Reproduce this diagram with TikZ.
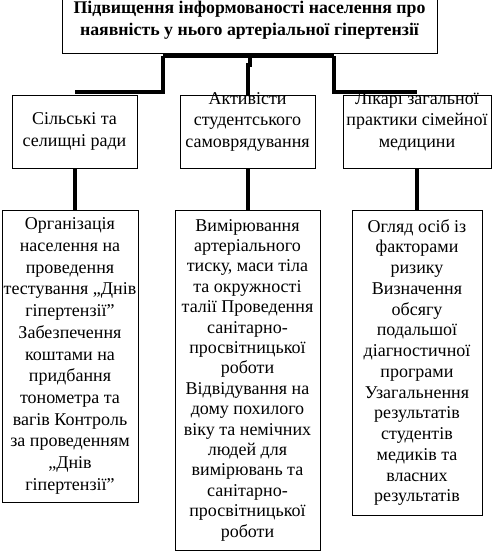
\documentclass[tikz,border=0pt]{standalone}
\usepackage{fontspec}
\setmainfont{Liberation Serif}
\usetikzlibrary{positioning, calc}
\tikzset{
  box/.style={draw, line width=0.9pt, inner sep=0pt, align=center},
  conn/.style={line width=4pt},
}

\begin{document}
\begin{tikzpicture}[x=1pt, y=-1pt]
  \useasboundingbox (0,0) rectangle (492,560);
  % Goal
  \node[box, minimum width=375pt, minimum height=66pt,
        font=\bfseries\fontsize{17.8}{22}\selectfont] (goal) at (249.5,20)
        {Підвищення інформованості населення про\\наявність у нього артеріальної гіпертензії};
  % Participants
  \node[box, minimum width=125pt, minimum height=73pt,
        font=\fontsize{18}{21.5}\selectfont] (rada) at (74.5,131.5)
        {Сільські та\\селищні ради};
  \node[box, minimum width=135pt, minimum height=73pt] (aktiv) at (247.5,131.5) {};
  \node[box, minimum width=148pt, minimum height=73pt] (likar) at (417,131.5) {};
  \node[align=center, inner sep=0pt, font=\fontsize{18}{21.5}\selectfont] (aktivtxt)
        at (247.5,121.5) {Активісти\\студентського\\самоврядування};
  \node[align=center, inner sep=0pt, font=\fontsize{18}{21.5}\selectfont] (likartxt)
        at (417,121.5) {Лікарі загальної\\практики сімейної\\медицини};
  % Tasks
  \node[box, minimum width=136pt, minimum height=292pt,
        font=\fontsize{18}{21.7}\selectfont] (org) at (70,356)
        {Організація\\населення на\\проведення\\тестування „Днів\\гіпертензії”\\Забезпечення\\коштами на\\придбання\\тонометра та\\вагів Контроль\\за проведенням\\„Днів\\гіпертензії”};
  \node[box, minimum width=145pt, minimum height=340pt,
        font=\fontsize{18}{20.4}\selectfont] (vymir) at (247.5,380)
        {Вимірювання\\артеріального\\тиску, маси тіла\\та окружності\\талії Проведення\\санітарно-\\просвітницької\\роботи\\Відвідування на\\дому похилого\\віку та немічних\\людей для\\вимірювань та\\санітарно-\\просвітницької\\роботи};
  \node[box, minimum width=130pt, minimum height=305pt,
        font=\fontsize{18}{20.75}\selectfont] (ohliad) at (417,362.5)
        {Огляд осіб із\\факторами\\ризику\\Визначення\\обсягу\\подальшої\\діагностичної\\програми\\Узагальнення\\результатів\\студентів\\медиків та\\власних\\результатів};
  % Connectors
  \coordinate (hubL) at (163,56);
  \coordinate (hubR) at (334,56);
  \draw[conn] (hubL) -- (hubR);
  \draw[conn] (hubL) |- ([yshift=3pt]rada.north);
  \draw[conn] (hubR) |- ([yshift=3pt]likar.north);
  \draw[conn] (goal.south) -- ++(0,12) -| (aktiv.north);
  \draw[conn] (rada.south) -- (rada.south |- org.north);
  \draw[conn] (aktiv.south) -- (aktiv.south |- vymir.north);
  \draw[conn] (likar.south) -- (likar.south |- ohliad.north);
\end{tikzpicture}
\end{document}
